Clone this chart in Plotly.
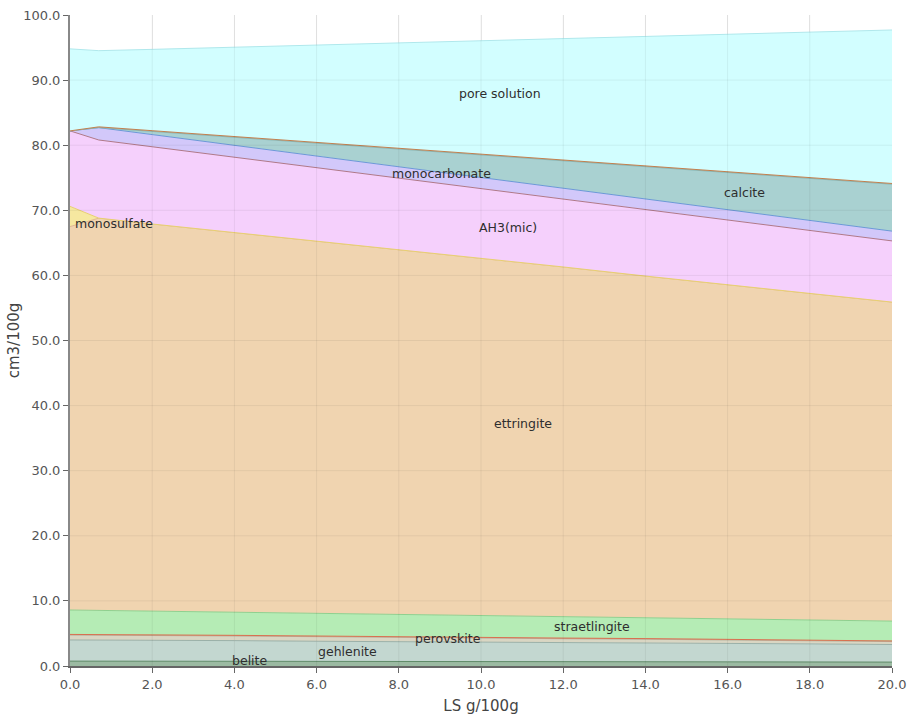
import plotly.graph_objects as go

# LS addition, g/100g
ls = [0, 0.7, 2, 4, 6, 8, 10, 12, 14, 16, 18, 20]

# phase volumes, cm3/100g (stacked from bottom)
belite        = [0.75, 0.75, 0.74, 0.73, 0.72, 0.71, 0.70, 0.68, 0.66, 0.64, 0.62, 0.60]
gehlenite     = [3.25, 3.25, 3.21, 3.17, 3.08, 3.04, 3.00, 2.92, 2.89, 2.81, 2.78, 2.70]
perovskite    = [0.75, 0.75, 0.73, 0.71, 0.68, 0.65, 0.62, 0.59, 0.56, 0.53, 0.50, 0.45]
hydrotalcite  = [0.10, 0.10, 0.10, 0.10, 0.10, 0.10, 0.10, 0.10, 0.10, 0.10, 0.10, 0.10]
straetlingite = [3.75, 3.69, 3.65, 3.55, 3.51, 3.42, 3.33, 3.29, 3.20, 3.16, 3.07, 3.05]
ettringite    = [58.9, 60.26, 59.47, 58.34, 57.21, 55.98, 54.85, 53.72, 52.49, 51.36, 50.13, 49.0]
monosulfate   = [3.1, 0, 0, 0, 0, 0, 0, 0, 0, 0, 0, 0]
ah3_mic       = [11.6, 12.0, 11.86, 11.55, 11.25, 11.04, 10.73, 10.43, 10.22, 9.91, 9.71, 9.4]
monocarbonate = [0, 1.9, 1.87, 1.83, 1.78, 1.75, 1.71, 1.66, 1.62, 1.58, 1.54, 1.5]
calcite       = [0, 0, 0.48, 1.23, 1.98, 2.72, 3.46, 4.21, 4.96, 5.71, 6.45, 7.2]
hydrogarnet   = [0, 0.12, 0.12, 0.12, 0.12, 0.12, 0.12, 0.12, 0.12, 0.12, 0.12, 0.12]
pore_solution = [12.6, 11.7, 12.49, 13.72, 14.95, 16.18, 17.42, 18.66, 19.89, 21.12, 22.35, 23.58]

x_ticks = [0, 2, 4, 6, 8, 10, 12, 14, 16, 18, 20]
y_ticks = [0, 10, 20, 30, 40, 50, 60, 70, 80, 90, 100]

# label positions (LS, cm3/100g)
labels = [
    ("pore solution", 10.46, 88.0),
    ("monocarbonate", 9.05, 75.7),
    ("calcite", 16.42, 72.7),
    ("AH3(mic)", 10.66, 67.3),
    ("monosulfate", 1.07, 68.0),
    ("ettringite", 11.02, 37.3),
    ("straetlingite", 12.7, 6.0),
    ("perovskite", 9.2, 4.3),
    ("gehlenite", 6.76, 2.3),
    ("belite", 4.36, 0.9),
]

phases = [
    ("belite", belite, "#9bbaa2", "#5f8a68"),
    ("gehlenite", gehlenite, "#c3d7d0", "#9ab0a8"),
    ("perovskite", perovskite, "#d9d6c3", "#b8b4a0"),
    ("hydrotalcite", hydrotalcite, "#e0906a", "#d87050"),
    ("straetlingite", straetlingite, "#b5ecb5", "#8fd08f"),
    ("ettringite", ettringite, "#f0d4b0", "#e0b890"),
    ("monosulfate", monosulfate, "#f6e8a0", "#e8d070"),
    ("AH3(mic)", ah3_mic, "#f5d0fc", "#b07888"),
    ("monocarbonate", monocarbonate, "#d2c8fa", "#6c98d8"),
    ("calcite", calcite, "#a9d1d1", "#88b8b8"),
    ("hydrogarnet", hydrogarnet, "#d8a070", "#c08050"),
    ("pore solution", pore_solution, "#d2feff", "#b0e8ec"),
]

fig = go.Figure()
for name, vals, fill, edge in phases:
    fig.add_trace(go.Scatter(
        x=ls, y=vals, name=name, mode="lines", stackgroup="one",
        line=dict(color=edge, width=1), fillcolor=fill, hoverinfo="x+y+name",
    ))

for text, lx, ly in labels:
    fig.add_annotation(x=lx, y=ly, text=text, showarrow=False,
                       font=dict(family="DejaVu Sans", size=12.5, color="#2e2e2e"))

# faint grid drawn over the filled areas
for t in x_ticks[1:-1]:
    fig.add_shape(type="line", x0=t, x1=t, y0=0, y1=100, xref="x", yref="y",
                  line=dict(color="rgba(0,0,0,0.06)", width=1), layer="above")
for t in y_ticks[1:-1]:
    fig.add_shape(type="line", x0=0, x1=20, y0=t, y1=t, xref="x", yref="y",
                  line=dict(color="rgba(0,0,0,0.06)", width=1), layer="above")

fig.update_layout(
    width=908, height=715,
    margin=dict(l=70, r=16, t=15, b=49),
    plot_bgcolor="white", paper_bgcolor="white",
    showlegend=False,
    font=dict(family="DejaVu Sans", size=13, color="#555555"),
)
fig.update_xaxes(
    range=[0, 20], tickvals=x_ticks, tickformat=".1f", automargin=False,
    ticklabeloverflow="allow",
    tickfont=dict(size=13, color="#555555"),
    showgrid=True, gridcolor="#ececec", zeroline=False,
    showline=True, linecolor="#666666", linewidth=2,
    ticks="outside", ticklen=5, tickcolor="#666666",
    title=dict(text="LS g/100g", font=dict(size=15, color="#444444"), standoff=10),
    layer="above traces",
)
fig.update_yaxes(
    range=[0, 100], tickvals=y_ticks, tickformat=".1f", automargin=False,
    ticklabeloverflow="allow",
    tickfont=dict(size=13, color="#555555"),
    showgrid=True, gridcolor="#ececec", zeroline=False,
    showline=True, linecolor="#888888", linewidth=2,
    ticks="outside", ticklen=5, tickcolor="#666666",
    title=dict(text="cm3/100g", font=dict(size=15, color="#444444"), standoff=0),
    layer="above traces",
)

fig.write_html(
    "out.html",
    config={"displayModeBar": False},
    post_script="document.body.style.margin='0';document.body.style.overflow='hidden';",
)
